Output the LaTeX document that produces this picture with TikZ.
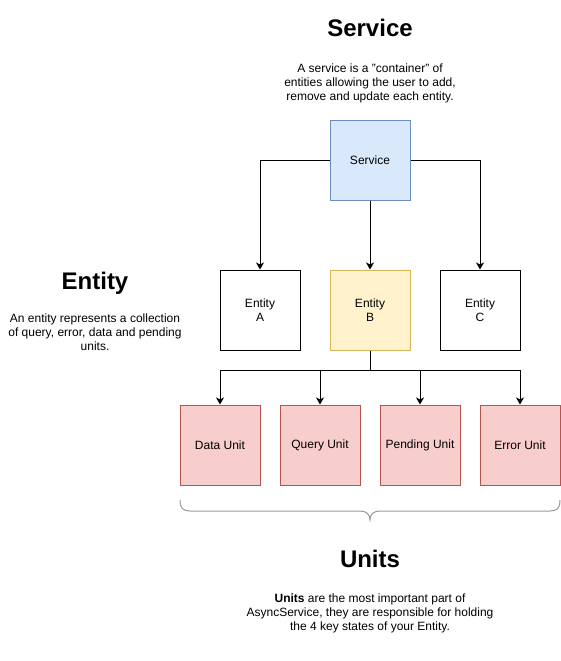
\documentclass[tikz,border=0pt]{standalone}
\usepackage{fontspec}
\setmainfont{Liberation Sans}
\usetikzlibrary{arrows.meta,positioning}
\definecolor{svcfill}{HTML}{DAE8FC}
\definecolor{svcdraw}{HTML}{6C8EBF}
\definecolor{entfill}{HTML}{FFF2CC}
\definecolor{entdraw}{HTML}{D6B656}
\definecolor{unitfill}{HTML}{F8CECC}
\definecolor{unitdraw}{HTML}{B85450}
\definecolor{bracegray}{HTML}{999999}
\tikzset{
  box/.style={draw,line width=1pt,minimum width=80pt,minimum height=80pt,inner sep=0pt,
    align=center,font=\fontsize{12}{14}\selectfont},
  svcbox/.style={box,fill=svcfill,draw=svcdraw},
  entbbox/.style={box,fill=entfill,draw=entdraw},
  unitbox/.style={box,fill=unitfill,draw=unitdraw},
  heading/.style={anchor=base,inner sep=0pt,font=\fontsize{24}{28}\selectfont\bfseries},
  blurb/.style={align=center,inner sep=0pt,font=\fontsize{12}{14}\selectfont},
  link/.style={->,line width=1pt}
}
\begin{document}
\begin{tikzpicture}[x=1pt,y=-1pt,>={Stealth[length=7pt,width=8pt,inset=2pt]}]
\useasboundingbox (0,0) rectangle (561,661);
% headings and notes
\node[heading] (tSvc) at (370,37) {Service};
\node[blurb] (nSvc) at (370,83) {A service is a "container" of\\entities allowing the user to add,\\remove and update each entity.};
\node[heading] (tEnt) at (95,289) {Entity};
\node[blurb] (nEnt) at (95,332) {An entity represents a collection\\of query, error, data and pending\\units.};
\node[heading] (tUnit) at (370,567) {Units};
\node[blurb] (nUnit) at (370,613) {\textbf{Units} are the most important part of\\AsyncService, they are responsible for holding\\the 4 key states of your Entity.};
% service and entities
\node[svcbox] (svc) at (370,160) {Service};
\node[box] (entA) at (260,310) {Entity\\A};
\node[entbbox] (entB) at (370,310) {Entity\\B};
\node[box] (entC) at (480,310) {Entity\\C};
\draw[link] (svc.west) -| (entA.north);
\draw[link] (svc.south) -- (entB.north);
\draw[link] (svc.east) -| (entC.north);
% units
\foreach \n/\x/\t in {uData/220/Data Unit,uQuery/320/Query Unit,uPending/420/Pending Unit,uError/520/Error Unit}{
  \node[unitbox] (\n) at (\x,445) {\t};
}
\coordinate (split) at (370,370);
\draw[line width=1pt] (entB.south) -- (split);
\foreach \n in {uData,uQuery,uPending,uError}{\draw[link] (split) -| (\n.north);}
% brace under the units
\draw[bracegray,line width=1pt] (180,500) .. controls (180,508) and (183,511) .. (190,511) -- (360,511)
  .. controls (366,511) and (370,514) .. (370,520) .. controls (370,514) and (374,511) .. (380,511)
  -- (550,511) .. controls (557,511) and (560,508) .. (560,500);
\end{tikzpicture}
\end{document}
